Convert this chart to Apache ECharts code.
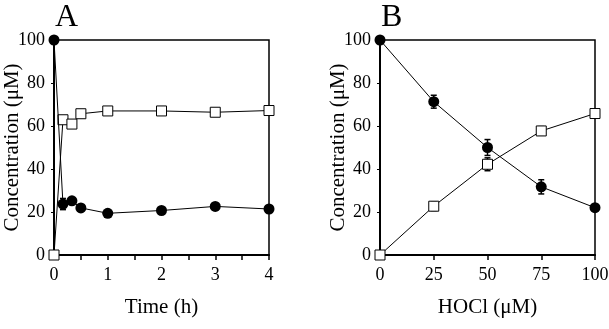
<!DOCTYPE html>
<html>
<head>
<meta charset="utf-8">
<script src="https://cdn.jsdelivr.net/npm/echarts@6/dist/echarts.min.js"></script>
<style>
  html, body { margin: 0; padding: 0; background: #fff; }
  #chart { width: 609px; height: 329px; }
</style>
</head>
<body>
<div id="chart"></div>
<script>
// Panel A: time course
const timeA = [0, 1 / 6, 1 / 3, 0.5, 1, 2, 3, 4]
const circlesA = [100, 23.7, 25.2, 21.9, 19.4, 20.7, 22.6, 21.4]
const circlesAErr = [0, 2.6, 1, 1, 0.5, 0.5, 0.5, 0.5]
const squaresA = [0, 62.9, 60.9, 65.7, 67, 67, 66.4, 67.2]
const squaresAErr = [0, 1.5, 0.8, 0.8, 0.5, 0.5, 0.5, 0.5]

// Panel B: HOCl dose
const hoclB = [0, 25, 50, 75, 100]
const circlesB = [100, 71.3, 50, 31.7, 22]
const circlesBErr = [0, 3, 3.7, 3.3, 1]
const squaresB = [0, 22.7, 42.2, 57.7, 65.8]
const squaresBErr = [0, 2, 3, 2, 1]

const font = 'Liberation Serif'
const chart = echarts.init(document.getElementById('chart'))

function pairs(xs, ys) {
  return xs.map((x, i) => [x, ys[i]])
}
function errs(xs, ys, es) {
  return xs.map((x, i) => [x, ys[i] - es[i], ys[i] + es[i]])
}

function errorSeries(idx, data) {
  return {
    type: 'custom',
    xAxisIndex: idx,
    yAxisIndex: idx,
    data: data,
    z: 1,
    renderItem: function (params, api) {
      const x = api.value(0)
      const lo = api.coord([x, api.value(1)])
      const hi = api.coord([x, api.value(2)])
      const w = 3
      const style = { stroke: '#000', lineWidth: 1.5 }
      return {
        type: 'group',
        children: [
          { type: 'line', shape: { x1: lo[0], y1: lo[1], x2: hi[0], y2: hi[1] }, style },
          { type: 'line', shape: { x1: lo[0] - w, y1: lo[1], x2: lo[0] + w, y2: lo[1] }, style },
          { type: 'line', shape: { x1: hi[0] - w, y1: hi[1], x2: hi[0] + w, y2: hi[1] }, style }
        ]
      }
    }
  }
}

function lineSeries(idx, data, filled) {
  return {
    type: 'line',
    xAxisIndex: idx,
    yAxisIndex: idx,
    data: data,
    clip: false,
    z: filled ? 3 : 2,
    symbol: filled ? 'circle' : 'rect',
    symbolSize: filled ? 11 : 10,
    lineStyle: { color: '#000', width: 1 },
    itemStyle: filled
      ? { color: '#000' }
      : { color: '#fff', borderColor: '#000', borderWidth: 1 },
    animation: false
  }
}

function yAxis(idx) {
  return {
    type: 'value',
    gridIndex: idx,
    min: 0,
    max: 100,
    interval: 20,
    name: 'Concentration (μM)',
    nameLocation: 'middle',
    nameGap: 31,
    nameMoveOverlap: false,
    nameTextStyle: { fontFamily: font, fontSize: 21, color: '#000' },
    axisLine: { show: true, lineStyle: { color: '#000', width: 2 } },
    axisTick: { show: true, length: 3, lineStyle: { color: '#000' } },
    axisLabel: { fontFamily: font, fontSize: 18, color: '#000', margin: 9 },
    splitLine: { show: false }
  }
}

function xAxis(idx, max, interval, labelStep, name) {
  return {
    type: 'value',
    gridIndex: idx,
    min: 0,
    max: max,
    interval: interval,
    name: name,
    nameLocation: 'middle',
    nameGap: 42,
    nameMoveOverlap: false,
    nameTextStyle: { fontFamily: font, fontSize: 21, color: '#000' },
    axisLine: { show: true, onZero: false, lineStyle: { color: '#000', width: 2 } },
    axisTick: { show: true, length: 5, lineStyle: { color: '#000', width: 1.5 } },
    axisLabel: {
      fontFamily: font, fontSize: 18, color: '#000', margin: 11,
      formatter: v => (Math.abs(v / labelStep - Math.round(v / labelStep)) < 1e-6 ? String(v) : '')
    },
    splitLine: { show: false }
  }
}

const option = {
  backgroundColor: '#fff',
  animation: false,
  title: [
    { text: 'A', left: 50, top: -3, textStyle: { fontFamily: font, fontSize: 32, fontWeight: 'normal', color: '#000' } },
    { text: 'B', left: 376, top: -3, textStyle: { fontFamily: font, fontSize: 32, fontWeight: 'normal', color: '#000' } }
  ],
  grid: [
    { left: 54, right: 340, top: 40, bottom: 74, outerBoundsMode: 'none', show: true, borderColor: '#000', borderWidth: 1.5, backgroundColor: 'transparent' },
    { left: 380, right: 14, top: 40, bottom: 74, outerBoundsMode: 'none', show: true, borderColor: '#000', borderWidth: 1.5, backgroundColor: 'transparent' }
  ],
  xAxis: [
    xAxis(0, 4, 0.5, 1, 'Time (h)'),
    xAxis(1, 100, 25, 25, 'HOCl (μM)')
  ],
  yAxis: [yAxis(0), yAxis(1)],
  series: [
    errorSeries(0, errs(timeA, circlesA, circlesAErr)),
    errorSeries(0, errs(timeA, squaresA, squaresAErr)),
    lineSeries(0, pairs(timeA, squaresA), false),
    lineSeries(0, pairs(timeA, circlesA), true),
    errorSeries(1, errs(hoclB, circlesB, circlesBErr)),
    errorSeries(1, errs(hoclB, squaresB, squaresBErr)),
    lineSeries(1, pairs(hoclB, squaresB), false),
    lineSeries(1, pairs(hoclB, circlesB), true)
  ]
}

chart.setOption(option)
</script>
</body>
</html>
